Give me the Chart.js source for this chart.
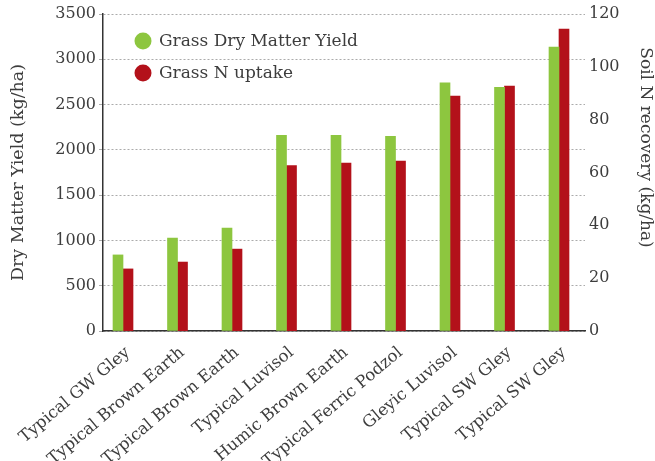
<!DOCTYPE html>
<html><head><meta charset="utf-8">
<script src="https://cdn.jsdelivr.net/npm/chart.js@4"></script>
<style>html,body{margin:0;padding:0;background:#fff}#wrap{width:655px;height:461px;position:relative}</style>
</head><body><div id="wrap"><canvas id="c"></canvas></div>
<script>
const categories = ['Typical GW Gley','Typical Brown Earth','Typical Brown Earth','Typical Luvisol','Humic Brown Earth','Typical Ferric Podzol','Gleyic Luvisol','Typical SW Gley','Typical SW Gley'];
const dryMatterYield = [840, 1025, 1135, 2160, 2160, 2150, 2740, 2690, 3135];
const nUptake = [23.5, 26.1, 31.0, 62.6, 63.6, 64.3, 88.9, 92.7, 114.3];
const seriesNames = ['Grass Dry Matter Yield', 'Grass N uptake'];
const leftAxisTitle = 'Dry Matter Yield (kg/ha)';
const rightAxisTitle = 'Soil N recovery (kg/ha)';

const TEXT = '#3d3d3d';
const FAM = '"DejaVu Serif", serif';
Chart.defaults.font.family = FAM;
Chart.defaults.color = TEXT;

const legendPlugin = {
  id: 'insideLegend',
  afterDraw(chart) {
    const {ctx, chartArea: a} = chart;
    ctx.save();
    chart.data.datasets.forEach((ds, i) => {
      const cx = a.left + 40, cy = a.top + 27 + i * 32;
      ctx.fillStyle = ds.backgroundColor;
      ctx.beginPath(); ctx.arc(cx, cy, 8.5, 0, Math.PI * 2); ctx.fill();
      ctx.fillStyle = TEXT;
      ctx.font = '17px ' + FAM;
      ctx.textBaseline = 'middle';
      ctx.textAlign = 'left';
      ctx.fillText(ds.label, a.left + 56, cy + 1);
    });
    // right axis title (rotated clockwise), sits slightly above the axis centre
    const mid = (a.top + a.bottom) / 2 - 25;
    ctx.translate(chart.width - 10, mid);
    ctx.rotate(Math.PI / 2);
    ctx.textAlign = 'center';
    ctx.textBaseline = 'middle';
    ctx.font = '17px ' + FAM;
    ctx.fillText(rightAxisTitle, 0, 0);
    ctx.restore();
  }
};

new Chart(document.getElementById('c'), {
  type: 'bar',
  data: {
    datasets: [
      {label: seriesNames[0], data: dryMatterYield.map((v, i) => ({x: i, y: v})), backgroundColor: '#8dc63f', yAxisID: 'y', barThickness: 10},
      {label: seriesNames[1], data: nUptake.map((v, i) => ({x: i, y: v})), backgroundColor: '#b3111a', yAxisID: 'y1', barThickness: 10}
    ]
  },
  options: {
    responsive: true,
    maintainAspectRatio: false,
    animation: false,
    layout: {padding: {top: 14, left: 0, right: 0, bottom: 0}},
    plugins: {legend: {display: false}, tooltip: {enabled: false}},
    scales: {
      x: {
        type: 'linear', min: -0.367, max: 8.477, offset: false,
        afterBuildTicks: s => { s.ticks = categories.map((_, i) => ({value: i})); },
        grid: {display: false, offset: false},
        border: {display: true, color: '#333', width: 1.5},
        ticks: {autoSkip: false, minRotation: 40, maxRotation: 40, font: {size: 16.5}, color: TEXT,
                padding: 4, labelOffset: 5, callback: v => categories[v]},
        afterFit: s => { s.height = 130; }
      },
      y: {
        position: 'left', min: 0, max: 3500,
        ticks: {stepSize: 500, font: {size: 16}, color: TEXT, padding: 3, callback: v => String(v)},
        grid: {color: '#ababab', lineWidth: 1, tickLength: 4},
        border: {display: true, color: '#333', width: 1.5, dash: [2, 2]},
        title: {display: true, text: leftAxisTitle, font: {size: 17.5}, color: TEXT, padding: {top: 8, bottom: 4}},
        afterFit: s => { s.width = 103; }
      },
      y1: {
        position: 'right', min: 0, max: 120,
        ticks: {stepSize: 20, font: {size: 16}, color: TEXT, padding: 4, callback: v => String(v)},
        grid: {display: false, drawTicks: false},
        border: {display: false},
        title: {display: false, text: rightAxisTitle},
        afterFit: s => { s.width = 70; }
      }
    }
  },
  plugins: [legendPlugin]
});
</script>
</body></html>
